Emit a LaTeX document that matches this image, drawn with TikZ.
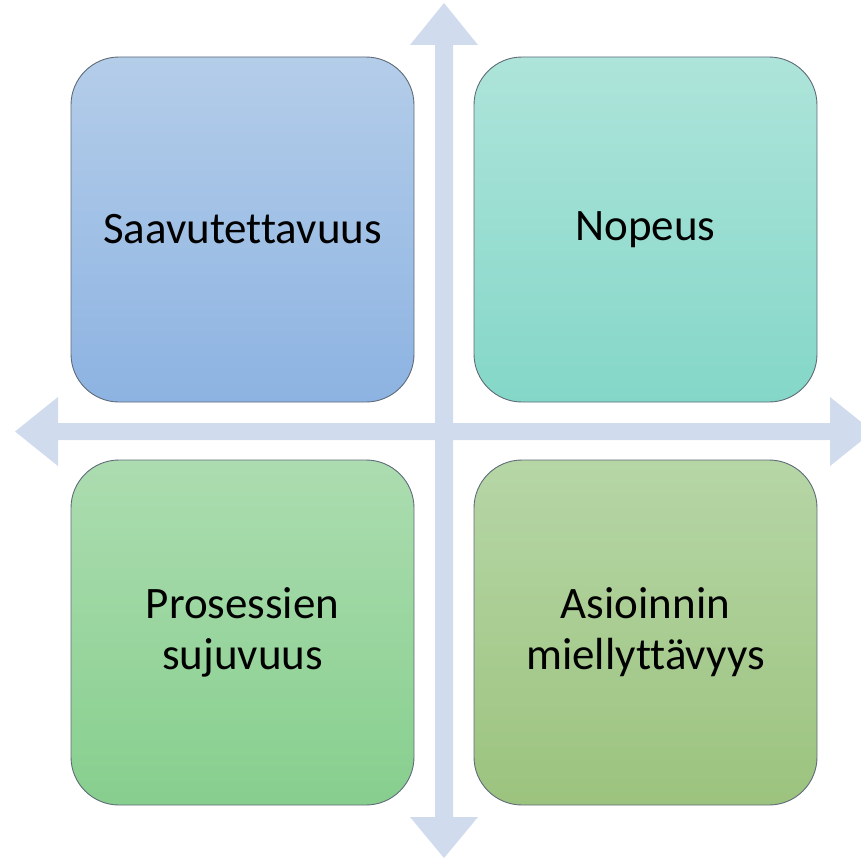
\documentclass[tikz,border=0pt]{standalone}
\usepackage{fontspec}
\setmainfont[Ligatures={NoCommon}]{Carlito}
\definecolor{axis}{HTML}{D0DCEE}
\definecolor{blueT}{HTML}{B4CDE9}
\definecolor{blueB}{HTML}{8DB3E2}
\definecolor{tealT}{HTML}{AEE4DA}
\definecolor{tealB}{HTML}{84D7C8}
\definecolor{greenT}{HTML}{ACDCB0}
\definecolor{greenB}{HTML}{87CF8E}
\definecolor{oliveT}{HTML}{B6D6A6}
\definecolor{oliveB}{HTML}{9CC37E}
\definecolor{edge}{HTML}{5F6B78}
\tikzset{
  quad/.style={draw=edge, line width=0.9pt, rounded corners=48pt,
    minimum width=343pt, minimum height=345pt, inner sep=0pt,
    align=center, font=\fontsize{45}{51}\selectfont, text=black},
  axisfill/.style={fill=axis, draw=none}
}
\begin{document}
\begin{tikzpicture}[x=1pt,y=-1pt]
  \useasboundingbox (0,0) rectangle (861,859);
  \begin{scope}
    \clip (0,0) rectangle (861,859);
    % vertical double arrow
    \fill[axisfill] (444,3) -- (478,45) -- (453,45) -- (453,817) -- (478,817)
      -- (444,858) -- (410,817) -- (435,817) -- (435,45) -- (410,45) -- cycle;
    % horizontal double arrow
    \fill[axisfill] (15,431.5) -- (58,397) -- (58,423) -- (830,423) -- (830,397)
      -- (873,431.5) -- (830,466) -- (830,440) -- (58,440) -- (58,466) -- cycle;
  \end{scope}
  % quadrants
  \node[quad, top color=blueT, bottom color=blueB] (tl) at (242.5,229.5) {Saavutettavuus};
  \node[quad, top color=tealT, bottom color=tealB] (tr) at (645.5,229.5) {Nopeus};
  \node[quad, top color=greenT, bottom color=greenB] (bl) at (242.5,632.5) {Prosessien\\sujuvuus};
  \node[quad, top color=oliveT, bottom color=oliveB] (br) at (645.5,632.5) {Asioinnin\\miellyttävyys};
\end{tikzpicture}
\end{document}
